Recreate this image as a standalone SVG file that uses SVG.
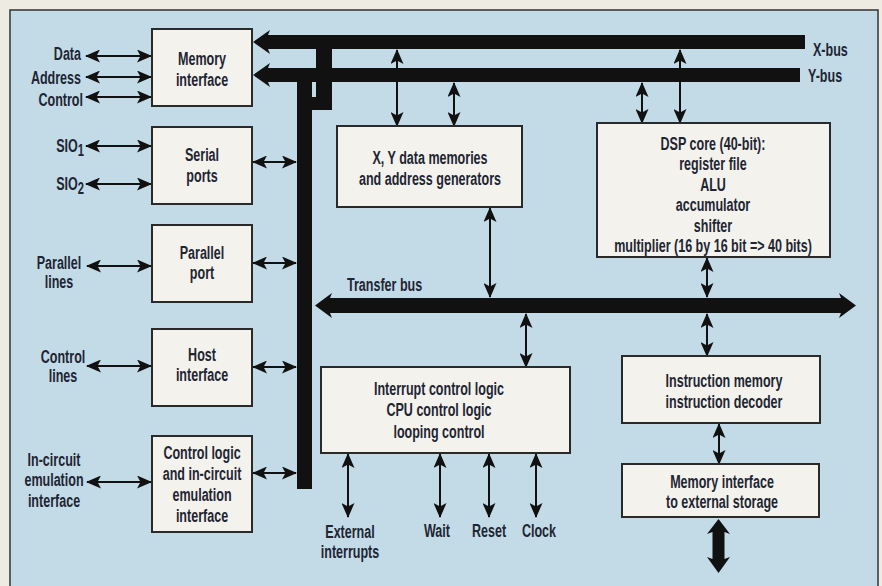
<svg xmlns="http://www.w3.org/2000/svg" width="882" height="586" viewBox="0 0 882 586">
  <style>
    .box { fill: #f4f2ec; stroke: #2a2a2a; stroke-width: 2; }
    .t { font-family: "Liberation Sans", Arial, sans-serif; font-weight: bold; font-size: 19px; fill: #1e2533; text-anchor: middle; }
    .r { text-anchor: end; }
    .l { text-anchor: start; }
    .bus { fill: #111; }
    .dbl { stroke: #111; stroke-width: 2; fill: none; marker-start: url(#ah); marker-end: url(#ah); }
  </style>
  <defs>
    <marker id="ah" viewBox="0 0 15 13" refX="14" refY="6.5" markerWidth="15" markerHeight="13" markerUnits="userSpaceOnUse" orient="auto-start-reverse">
      <path d="M0,0 L15,6.5 L0,13 L3.5,6.5 Z" fill="#111"/>
    </marker>
  </defs>

  <!-- paper and panel -->
  <rect x="0" y="0" width="882" height="586" fill="#eeebe3"/>
  <rect x="10" y="10" width="868" height="600" fill="#c3dbe7" stroke="#333" stroke-width="1.5"/>

  <!-- buses -->
  <g id="buses">
    <path class="bus" d="M253,42 L270,30 L268,35 L805,35 L805,49 L268,49 L270,54 Z"/>
    <path class="bus" d="M253,75 L270,63 L268,68 L800,68 L800,82 L268,82 L270,87 Z"/>
    <rect class="bus" x="297" y="68" width="15" height="421"/>
    <rect class="bus" x="316" y="40" width="16" height="70"/>
    <rect class="bus" x="311" y="97" width="6" height="13"/>
    <path class="bus" d="M315,305.5 L332,293 L330,298 L841,298 L839,293 L856,305.5 L839,318 L841,313 L330,313 L332,318 Z"/>
    <path class="bus" d="M718.5,519 L730,534 L724.5,532 L724.5,559 L730,557 L718.5,573 L707,557 L712.5,559 L712.5,532 L707,534 Z"/>
  </g>

  <!-- connectors -->
  <g id="connectors">
    <line class="dbl" x1="86" y1="56" x2="151" y2="56"/>
    <line class="dbl" x1="86" y1="77" x2="151" y2="77"/>
    <line class="dbl" x1="86" y1="97" x2="151" y2="97"/>
    <line class="dbl" x1="86" y1="146" x2="151" y2="146"/>
    <line class="dbl" x1="86" y1="184" x2="151" y2="184"/>
    <line class="dbl" x1="87" y1="266" x2="151" y2="266"/>
    <line class="dbl" x1="87" y1="366" x2="151" y2="366"/>
    <line class="dbl" x1="87" y1="482" x2="151" y2="482"/>
    <line class="dbl" x1="253" y1="162" x2="296" y2="162"/>
    <line class="dbl" x1="253" y1="263" x2="296" y2="263"/>
    <line class="dbl" x1="253" y1="367" x2="296" y2="367"/>
    <line class="dbl" x1="253" y1="473" x2="296" y2="473"/>
    <line class="dbl" x1="397" y1="50" x2="397" y2="126"/>
    <line class="dbl" x1="454" y1="83" x2="454" y2="126"/>
    <line class="dbl" x1="680" y1="50" x2="680" y2="123"/>
    <line class="dbl" x1="642" y1="83" x2="642" y2="123"/>
    <line class="dbl" x1="490" y1="208" x2="490" y2="297"/>
    <line class="dbl" x1="526" y1="314" x2="526" y2="367"/>
    <line class="dbl" x1="707" y1="258" x2="707" y2="297"/>
    <line class="dbl" x1="707" y1="314" x2="707" y2="356"/>
    <line class="dbl" x1="719" y1="424" x2="719" y2="464"/>
    <line class="dbl" x1="348" y1="454" x2="348" y2="517"/>
    <line class="dbl" x1="440" y1="454" x2="440" y2="517"/>
    <line class="dbl" x1="489" y1="454" x2="489" y2="517"/>
    <line class="dbl" x1="536" y1="454" x2="536" y2="517"/>
  </g>

  <!-- nodes -->
  <g id="memory-interface">
    <rect class="box" x="152" y="29" width="100" height="77"/>
    <text class="t" transform="translate(202,65) scale(0.66,1)"><tspan x="0">Memory</tspan><tspan x="0" dy="21">interface</tspan></text>
  </g>
  <g id="serial-ports">
    <rect class="box" x="152" y="127" width="100" height="77"/>
    <text class="t" transform="translate(202,161) scale(0.66,1)"><tspan x="0">Serial</tspan><tspan x="0" dy="21">ports</tspan></text>
  </g>
  <g id="parallel-port">
    <rect class="box" x="152" y="225" width="100" height="77"/>
    <text class="t" transform="translate(202,258.5) scale(0.66,1)"><tspan x="0">Parallel</tspan><tspan x="0" dy="21">port</tspan></text>
  </g>
  <g id="host-interface">
    <rect class="box" x="152" y="329" width="100" height="77"/>
    <text class="t" transform="translate(202,360.5) scale(0.66,1)"><tspan x="0">Host</tspan><tspan x="0" dy="21">interface</tspan></text>
  </g>
  <g id="control-logic">
    <rect class="box" x="152" y="436" width="100" height="96"/>
    <text class="t" transform="translate(202,458.5) scale(0.66,1)"><tspan x="0">Control logic</tspan><tspan x="0" dy="21.3">and in-circuit</tspan><tspan x="0" dy="21.3">emulation</tspan><tspan x="0" dy="21.3">interface</tspan></text>
  </g>
  <g id="data-memories">
    <rect class="box" x="337" y="126" width="185" height="81"/>
    <text class="t" transform="translate(430,163.5) scale(0.66,1)"><tspan x="0">X, Y data memories</tspan><tspan x="0" dy="21.5">and address generators</tspan></text>
  </g>
  <g id="control-unit">
    <rect class="box" x="321" y="367" width="249" height="86"/>
    <text class="t" transform="translate(439,394.5) scale(0.66,1)"><tspan x="0">Interrupt control logic</tspan><tspan x="0" dy="22">CPU control logic</tspan><tspan x="0" dy="22">looping control</tspan></text>
  </g>
  <g id="dsp-core">
    <rect class="box" x="597" y="123" width="233" height="134"/>
    <text class="t" transform="translate(713,150) scale(0.66,1)"><tspan x="0">DSP core (40-bit):</tspan><tspan x="0" dy="20.4">register file</tspan><tspan x="0" dy="20.4">ALU</tspan><tspan x="0" dy="20.4">accumulator</tspan><tspan x="0" dy="20.4">shifter</tspan><tspan x="0" dy="20.4">multiplier (16 by 16 bit =&gt; 40 bits)</tspan></text>
  </g>
  <g id="instruction-memory">
    <rect class="box" x="622" y="356" width="198" height="67"/>
    <text class="t" transform="translate(724,386.5) scale(0.66,1)"><tspan x="0">Instruction memory</tspan><tspan x="0" dy="22">instruction decoder</tspan></text>
  </g>
  <g id="external-memory-interface">
    <rect class="box" x="622" y="464" width="197" height="53"/>
    <text class="t" transform="translate(722,487.5) scale(0.66,1)"><tspan x="0">Memory interface</tspan><tspan x="0" dy="21">to external storage</tspan></text>
  </g>

  <!-- signal and bus labels -->
  <g id="labels">
    <text class="t r" transform="translate(81,59.5) scale(0.66,1)">Data</text>
    <text class="t r" transform="translate(81,83.5) scale(0.66,1)">Address</text>
    <text class="t r" transform="translate(83,105.5) scale(0.66,1)">Control</text>
    <text class="t r" transform="translate(84,151.5) scale(0.66,1)">SIO<tspan dy="4" font-size="17">1</tspan></text>
    <text class="t r" transform="translate(84,189.5) scale(0.66,1)">SIO<tspan dy="4" font-size="17">2</tspan></text>
    <text class="t" transform="translate(59,268.5) scale(0.66,1)"><tspan x="0">Parallel</tspan><tspan x="0" dy="20">lines</tspan></text>
    <text class="t" transform="translate(63,362.5) scale(0.66,1)"><tspan x="0">Control</tspan><tspan x="0" dy="20">lines</tspan></text>
    <text class="t" transform="translate(54,465.5) scale(0.66,1)"><tspan x="0">In-circuit</tspan><tspan x="0" dy="21">emulation</tspan><tspan x="0" dy="21">interface</tspan></text>
    <text class="t l" transform="translate(813,55.5) scale(0.66,1)">X-bus</text>
    <text class="t l" transform="translate(808,81.5) scale(0.66,1)">Y-bus</text>
    <text class="t l" transform="translate(347,290.5) scale(0.66,1)">Transfer bus</text>
    <text class="t" transform="translate(350,537.5) scale(0.66,1)"><tspan x="0">External</tspan><tspan x="0" dy="21">interrupts</tspan></text>
    <text class="t" transform="translate(437,536.5) scale(0.66,1)">Wait</text>
    <text class="t" transform="translate(489,536.5) scale(0.66,1)">Reset</text>
    <text class="t" transform="translate(539,536.5) scale(0.66,1)">Clock</text>
  </g>
</svg>
